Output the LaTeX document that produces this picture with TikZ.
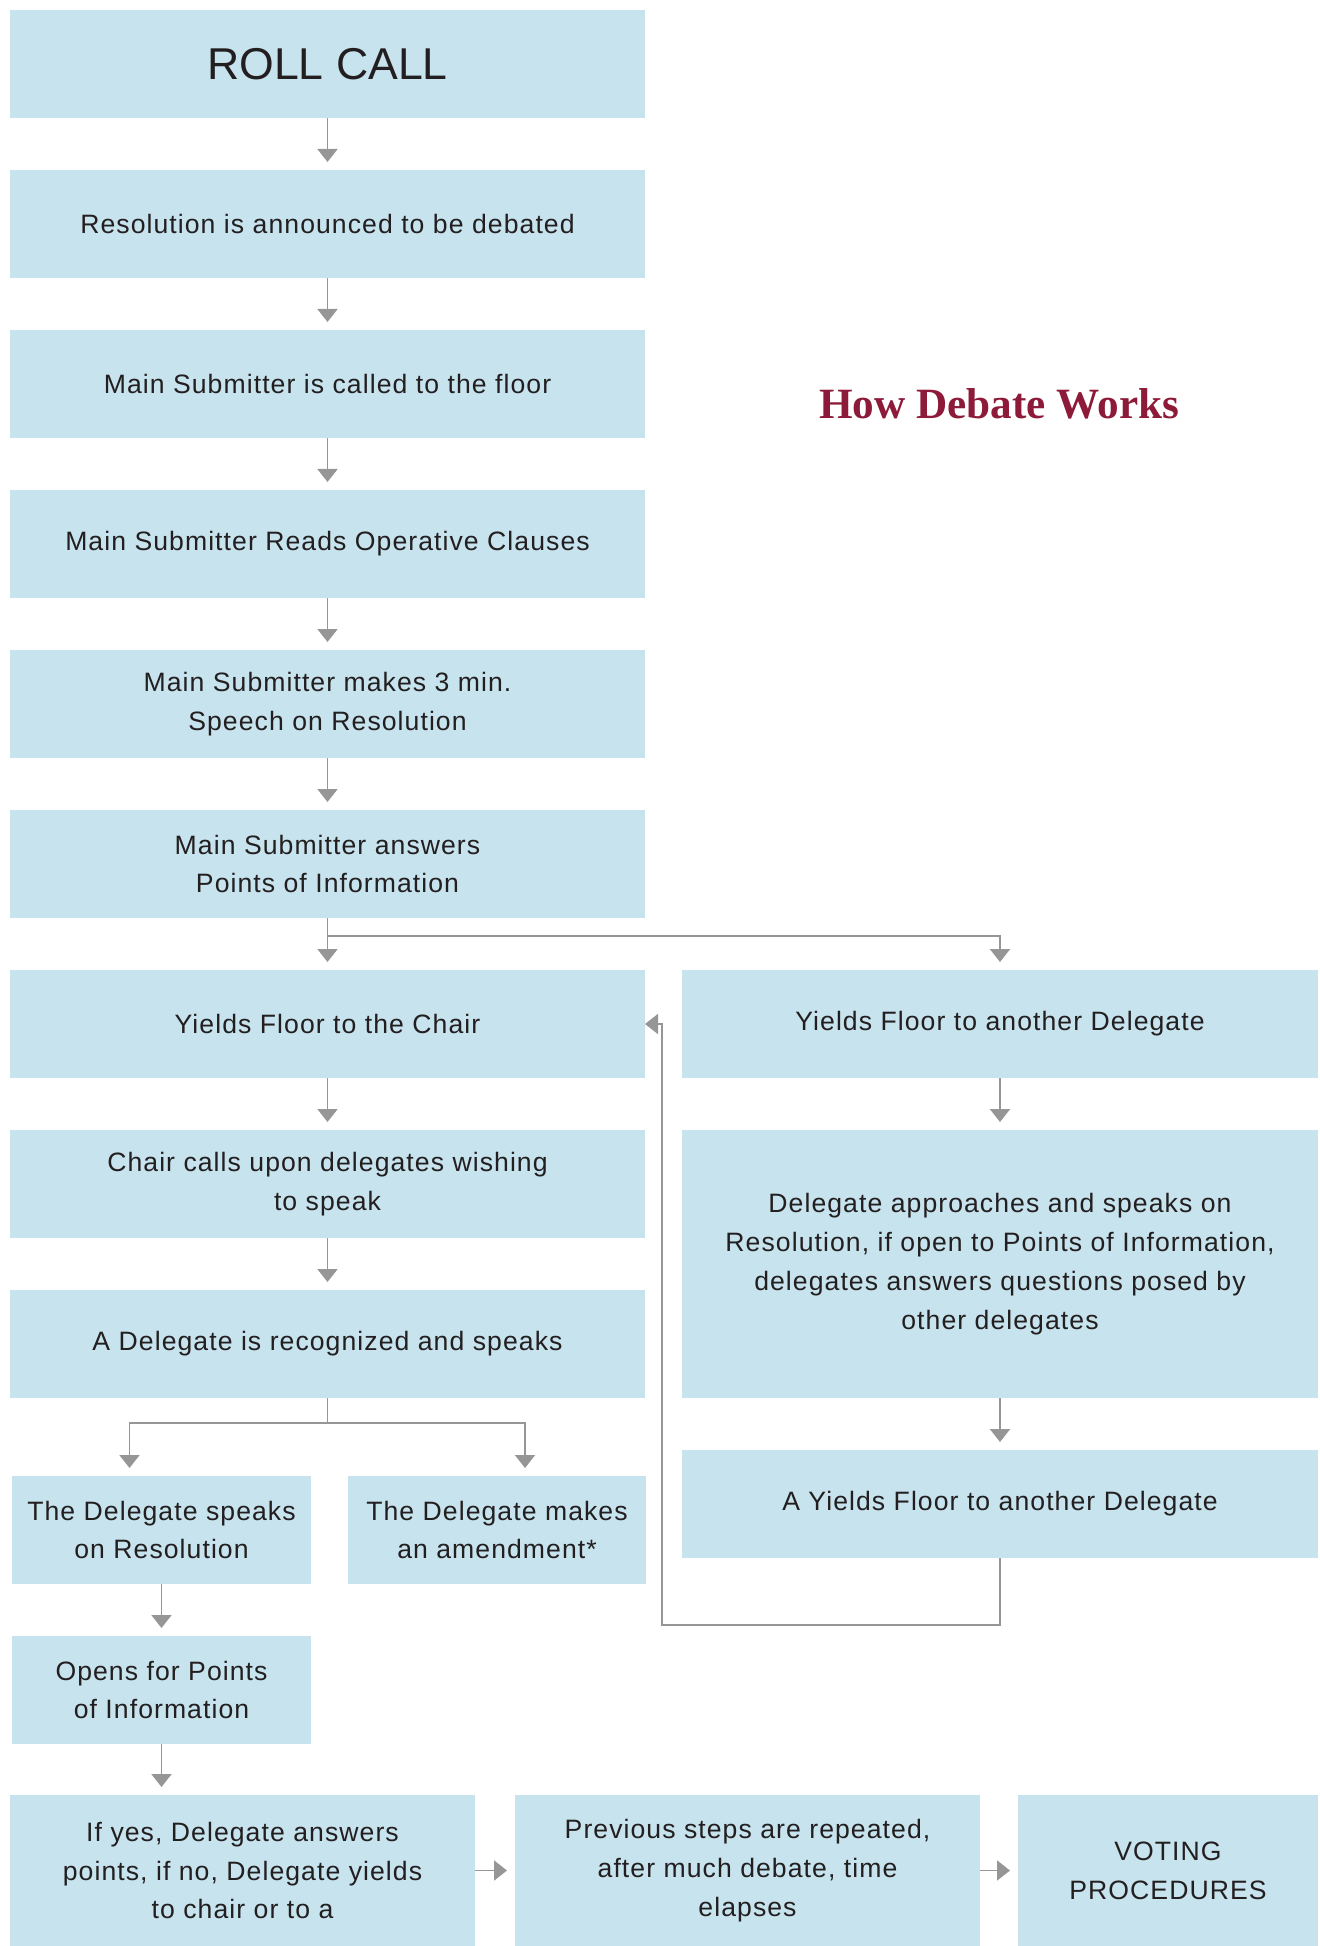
\documentclass[tikz,border=0pt]{standalone}
\usepackage{fontspec}
\setmainfont{Liberation Sans}[LetterSpace=4]
\newfontfamily\headfont{Liberation Serif}
\usepackage{tikz}
\usetikzlibrary{arrows.meta}
\definecolor{boxblue}{HTML}{C7E3EE}
\definecolor{linegray}{HTML}{969696}
\definecolor{inkgray}{HTML}{231F20}
\definecolor{titlered}{HTML}{8C1A38}
\tikzset{
  stage/.style={fill=boxblue, minimum width=317.5pt, minimum height=54pt, inner sep=0pt, outer sep=0pt,
    align=center, text=inkgray, font=\fontsize{13.3}{19.4}\selectfont},
  half/.style={stage, minimum width=149.5pt},
  flow/.style={draw=linegray, line width=0.9pt, shorten >=4pt, -{Triangle[width=10pt,length=6.5pt]}},
}

\begin{document}
\begin{tikzpicture}[x=0.5pt, y=-0.5pt]
\useasboundingbox (0,0) rectangle (1320,1946);
\path
(327.5,64) node[stage, font=\fontsize{22.3}{26}\selectfont\addfontfeature{LetterSpace=0}] (roll) {ROLL CALL};
\path
(327.5,224) node[stage] (announce) {Resolution is announced to be debated};
\path
(327.5,384) node[stage] (called) {Main Submitter is called to the floor};
\path
(327.5,544) node[stage] (reads) {Main Submitter Reads Operative Clauses};
\path
(327.5,704) node[stage] (speech) {Main Submitter makes 3 min.\\ Speech on Resolution};
\path
(327.5,864) node[stage] (answers) {Main Submitter answers\\ Points of Information};
\path
(327.5,1024) node[stage] (chair) {Yields Floor to the Chair};
\path
(327.5,1184) node[stage] (calls) {Chair calls upon delegates wishing\\ to speak};
\path
(327.5,1344) node[stage] (recog) {A Delegate is recognized and speaks};
\path
(1000,1024) node[stage, minimum width=318pt] (another) {Yields Floor to another Delegate};
\path
(1000,1264) node[stage, minimum width=318pt, minimum height=134pt] (approach) {Delegate approaches and speaks on\\ Resolution, if open to Points of Information,\\ delegates answers questions posed by\\ other delegates};
\path
(1000,1504) node[stage, minimum width=318pt] (ayield) {A Yields Floor to another Delegate};
\path
(161.5,1530) node[half] (speaks) {The Delegate speaks\\ on Resolution};
\path
(497,1530) node[half, minimum width=149pt] (amend) {The Delegate makes\\ an amendment*};
\path
(161.5,1690) node[half] (opens) {Opens for Points\\ of Information};
\path
(242.5,1870.5) node[stage, minimum width=232.5pt, minimum height=75.5pt] (ifyes) {If yes, Delegate answers\\ points, if no, Delegate yields\\ to chair or to a};
\path
(747.5,1870.5) node[stage, minimum width=232.5pt, minimum height=75.5pt] (repeat) {Previous steps are repeated,\\ after much debate, time\\ elapses};
\path
(1168,1870.5) node[stage, minimum width=150pt, minimum height=75.5pt] (voting) {VOTING\\ PROCEDURES};
\path
(999,404) node[text=titlered, font=\headfont\bfseries\fontsize{21.6}{25}\selectfont] (title) {How Debate Works};
\draw[flow] (roll) -- (announce);
\draw[flow] (announce) -- (called);
\draw[flow] (called) -- (reads);
\draw[flow] (reads) -- (speech);
\draw[flow] (speech) -- (answers);
\draw[flow] (answers) -- (chair);
\draw[flow] (answers.south) -- ++(0,18) -| (another.north);
\draw[flow] (chair) -- (calls);
\draw[flow] (calls) -- (recog);
\draw[flow] (recog.south) -- ++(0,25) -| ([xshift=-16pt]speaks.north);
\draw[flow] (recog.south) -- ++(0,25) -| ([xshift=14pt]amend.north);
\draw[flow] (speaks) -- (opens);
\draw[flow] (opens.south) -- (opens.south |- ifyes.north);
\draw[flow] (another) -- (approach);
\draw[flow] (approach) -- (ayield);
\draw[flow, shorten >=0pt] (ayield.south) -- ++(0,67) -| ([xshift=8.5pt]chair.east) -- (chair.east);
\draw[flow] (ifyes) -- (repeat);
\draw[flow] (repeat) -- (voting);
\end{tikzpicture}
\end{document}
